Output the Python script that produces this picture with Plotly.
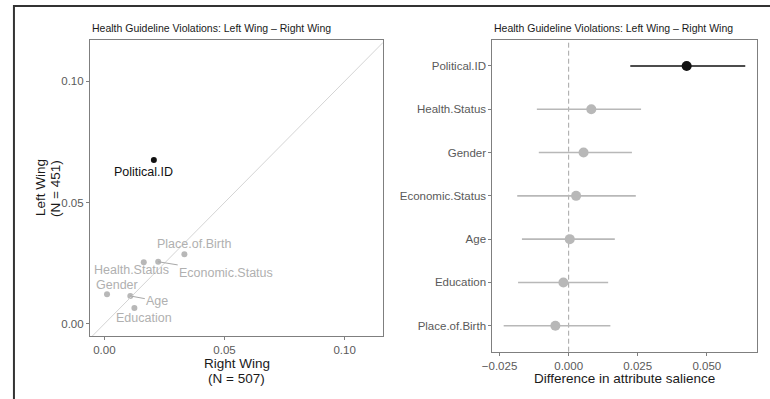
import plotly.graph_objects as go

# Attribute salience among left- and right-wing respondents
attributes = ["Political.ID", "Place.of.Birth", "Economic.Status", "Health.Status",
              "Gender", "Age", "Education"]
right_wing = [0.0206, 0.0333, 0.0224, 0.0164, 0.0011, 0.0108, 0.0125]
left_wing = [0.0675, 0.0287, 0.0256, 0.0254, 0.0122, 0.0115, 0.0065]

# Difference in salience (left - right) with 95% intervals
diff_attributes = ["Political.ID", "Health.Status", "Gender", "Economic.Status",
                   "Age", "Education", "Place.of.Birth"]
diff_estimate = [0.0427, 0.0082, 0.0054, 0.0027, 0.0004, -0.0019, -0.0048]
diff_lower = [0.0223, -0.0115, -0.0108, -0.0186, -0.0169, -0.0183, -0.0235]
diff_upper = [0.0639, 0.0262, 0.0229, 0.0243, 0.0167, 0.0143, 0.0151]

# Label offsets (pixels) for the scatter labels, and whether a leader segment is drawn
label_dx = [-10, 10, 68, -12, 10, 27, 10]
label_dy = [12, -10, 11, 8, -9, 5, 10]
label_segment = [False, False, True, False, False, True, False]

highlight = "Political.ID"
DARK = "#111111"
LIGHT = "#b8b8b8"
FONT = "Liberation Sans"
W, H = 770, 399

xy_range = [-0.006, 0.116]

fig = go.Figure()

# Left panel: scatter of left vs right salience
colors = [DARK if a == highlight else LIGHT for a in attributes]
fig.add_trace(go.Scatter(
    x=right_wing, y=left_wing, mode="markers",
    marker=dict(color=colors, size=6, line=dict(width=0)),
    xaxis="x", yaxis="y", showlegend=False, hoverinfo="skip"))

# y = x reference line
fig.add_trace(go.Scatter(
    x=xy_range, y=xy_range, mode="lines",
    line=dict(color="#d4d4d4", width=1),
    xaxis="x", yaxis="y", showlegend=False, hoverinfo="skip"))

for a, xv, yv, dx, dy, seg in zip(attributes, right_wing, left_wing,
                                  label_dx, label_dy, label_segment):
    col = DARK if a == highlight else "#b0b0b0"
    fig.add_annotation(
        x=xv, y=yv, xref="x", yref="y", text=a,
        showarrow=True, ax=dx, ay=dy, axref="pixel", ayref="pixel",
        arrowhead=0, arrowwidth=1,
        arrowcolor=("#a8a8a8" if seg else "rgba(0,0,0,0)"),
        font=dict(family=FONT, size=12.5, color=col))

# Right panel: differences with intervals, split by highlight
for is_hi in (False, True):
    idx = [i for i, a in enumerate(diff_attributes) if (a == highlight) == is_hi]
    col = DARK if is_hi else LIGHT
    fig.add_trace(go.Scatter(
        x=[diff_estimate[i] for i in idx],
        y=[diff_attributes[i] for i in idx],
        mode="markers",
        marker=dict(color=col, size=10, line=dict(width=0)),
        error_x=dict(type="data", symmetric=False,
                     array=[diff_upper[i] - diff_estimate[i] for i in idx],
                     arrayminus=[diff_estimate[i] - diff_lower[i] for i in idx],
                     color=col, thickness=1.6, width=0),
        xaxis="x2", yaxis="y2", showlegend=False, hoverinfo="skip"))

axis_common = dict(
    showgrid=False, zeroline=False, showline=True, mirror=True,
    linecolor="#7f7f7f", linewidth=1, ticks="outside", ticklen=3,
    tickcolor="#7f7f7f", tickwidth=1,
    tickfont=dict(family=FONT, size=11.5, color="#5a5a5a"))

fig.update_layout(
    width=W, height=H,
    margin=dict(l=0, r=0, t=0, b=0),
    paper_bgcolor="white", plot_bgcolor="white",
    xaxis=dict(domain=[81 / W, 378 / W], range=xy_range,
               tickvals=[0, 0.05, 0.10], ticktext=["0.00", "0.05", "0.10"],
               anchor="y", **axis_common),
    yaxis=dict(domain=[1 - 336 / H, 1 - 40 / H], range=[-0.005, 0.117],
               tickvals=[0, 0.05, 0.10], ticktext=["0.00", "0.05", "0.10"],
               anchor="x", **axis_common),
    xaxis2=dict(domain=[488.7 / W, 756.7 / W], range=[-0.0276, 0.0681],
                tickvals=[-0.025, 0, 0.025, 0.05],
                ticktext=["\u22120.025", "0.000", "0.025", "0.050"],
                anchor="y2", **axis_common),
    yaxis2=dict(domain=[1 - 351.7 / H, 1 - 40 / H], range=[-0.6, 6.6],
                type="category", categoryorder="array",
                categoryarray=diff_attributes[::-1],
                anchor="x2", **axis_common),
)

# Zero line on the difference panel
fig.add_shape(type="line", xref="x2", yref="y2 domain", x0=0, x1=0, y0=0, y1=1,
              line=dict(color="#a6a6a6", width=1, dash="5px,3px"), layer="below")

title_text = "Health Guideline Violations: Left Wing \u2013 Right Wing"
for x0 in (81 / W, 488.7 / W):
    fig.add_annotation(x=x0, y=1 - 28.5 / H, xref="paper", yref="paper",
                       xanchor="left", yanchor="middle", showarrow=False,
                       text=title_text,
                       font=dict(family=FONT, size=10.5, color="#1a1a1a"))

title_font = dict(family=FONT, size=13.5, color="#1a1a1a")
# Left panel x title (two lines)
for txt, yc in (("Right Wing", 363.5), ("(N = 507)", 378.5)):
    fig.add_annotation(x=229.5 / W, y=1 - yc / H, xref="paper", yref="paper",
                       xanchor="center", yanchor="middle", showarrow=False,
                       text=txt, font=title_font)
# Left panel y title (two lines, rotated)
for txt, xc in (("Left Wing", 30.5), ("(N = 451)", 45.5)):
    fig.add_annotation(x=xc / W, y=1 - 188 / H, xref="paper", yref="paper",
                       xanchor="center", yanchor="middle", showarrow=False,
                       textangle=-90, text=txt, font=title_font)
# Right panel x title
fig.add_annotation(x=622.5 / W, y=1 - 378.5 / H, xref="paper", yref="paper",
                   xanchor="center", yanchor="middle", showarrow=False,
                   text="Difference in attribute salience", font=title_font)

# Outer frame around the figure
fig.add_shape(type="rect", xref="paper", yref="paper",
              x0=4 / W, y0=-0.1, x1=1.1, y1=1 - 6 / H,
              line=dict(color="#333333", width=2), fillcolor="rgba(0,0,0,0)",
              layer="above")

fig.write_html("out.html")
